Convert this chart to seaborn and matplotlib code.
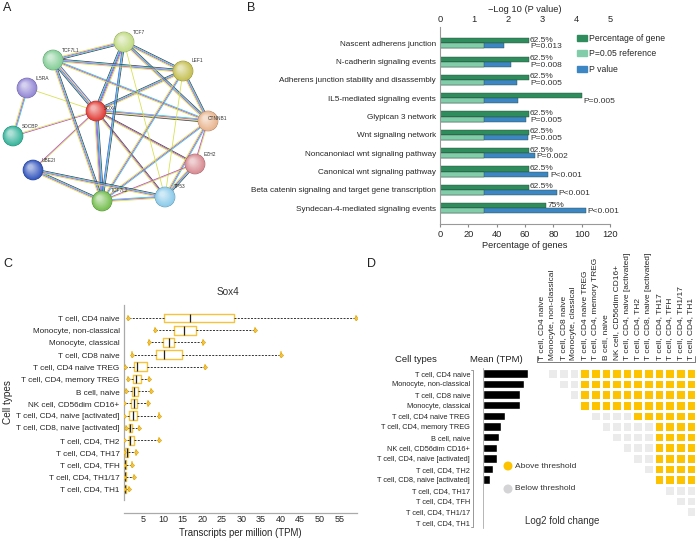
import numpy as np
import pandas as pd
import matplotlib
matplotlib.use('Agg')
import matplotlib.pyplot as plt
import seaborn as sns
from matplotlib.colors import ListedColormap, to_rgb
from matplotlib.patches import Circle, Patch

sns.set_style('white')
plt.rcParams['font.family'] = ['Liberation Sans', 'DejaVu Sans']

W, H = 698, 544

# --- A: STRING network (node positions in panel pixels) ---
nodes = ['TCF7', 'TCF7L1', 'LEF1', 'IL5RA', 'SOX4', 'CTNNB1', 'SDCBP', 'EZH2', 'UBE2I', 'TP53', 'TCF7L2']
node_x = [124, 53, 183, 27, 96, 208, 13, 195, 33, 165, 102]
node_y = [42, 60, 71, 88, 111, 121, 136, 164, 170, 197, 201]
node_colors = ['#c3dc86', '#86cf98', '#c6c155', '#9489d6', '#e2403a', '#e9b690',
               '#38b59c', '#d98d93', '#3659bf', '#8ccbea', '#77c052']
edge_a = ['SOX4', 'SOX4', 'SOX4', 'SOX4', 'SOX4', 'SOX4', 'SOX4', 'SOX4', 'SOX4', 'SOX4',
          'TCF7', 'TCF7', 'TCF7', 'TCF7', 'TCF7L1', 'TCF7L1', 'TCF7L1', 'LEF1', 'LEF1', 'LEF1',
          'CTNNB1', 'CTNNB1', 'CTNNB1', 'EZH2', 'EZH2', 'UBE2I', 'UBE2I', 'TCF7L2', 'IL5RA', 'TCF7']
edge_b = ['TCF7L1', 'TCF7', 'LEF1', 'TCF7L2', 'CTNNB1', 'TP53', 'EZH2', 'IL5RA', 'SDCBP', 'UBE2I',
          'TCF7L1', 'LEF1', 'CTNNB1', 'TCF7L2', 'LEF1', 'CTNNB1', 'TCF7L2', 'CTNNB1', 'TCF7L2', 'TP53',
          'TCF7L2', 'TP53', 'EZH2', 'TP53', 'TCF7L2', 'TCF7L2', 'TP53', 'TP53', 'SDCBP', 'TP53']
edge_kind = ['kcpyb', 'kcbpy', 'kcpy', 'kcbpy', 'cpyk', 'kpy', 'kpy', 'y', 'py', 'yp',
             'kcpy', 'kcpy', 'kcpy', 'kcb', 'kcpy', 'cpy', 'kcpy', 'kcpy', 'cpy', 'y',
             'cpy', 'cpy', 'yp', 'kcpy', 'yp', 'kcpy', 'kcpy', 'cpy', 'cpy', 'y']
edge_colors = {'k': '#3f3f3f', 'c': '#27c3e3', 'p': '#b54ac4', 'y': '#d6df47', 'b': '#3b5ad6'}

# --- B: pathway enrichment ---
pathways = ['Nascent adherens junction', 'N-cadherin signaling events',
            'Adherens junction stability and disassembly', 'IL5-mediated signaling events',
            'Glypican 3 network', 'Wnt signaling network', 'Noncanoniacl wnt signaling pathway',
            'Canonical wnt signaling pathway', 'Beta catenin signaling and target gene transcription',
            'Syndecan-4-mediated signaling events']
pct_genes = [62.5, 62.5, 62.5, 100, 62.5, 62.5, 62.5, 62.5, 62.5, 75]
neg_log_p = [1.89, 2.10, 2.27, 2.30, 2.53, 2.60, 2.80, 3.19, 3.45, 4.28]
ref_neg_log_p = 1.30
pct_labels = ['62.5%', '62.5%', '62.5%', '', '62.5%', '62.5%', '62.5%', '62.5%', '62.5%', '75%']
p_labels = ['P=0.013', 'P=0.008', 'P=0.005', 'P=0.005', 'P=0.005', 'P=0.005', 'P=0.002',
            'P<0.001', 'P<0.001', 'P<0.001']
P_SCALE = 120 / 5

# --- C: Sox4 expression per cell type (min, q1, median, q3, max) ---
cell_types = ['T cell, CD4 naive', 'Monocyte, non-classical', 'Monocyte, classical', 'T cell, CD8 naive',
              'T cell, CD4 naive TREG', 'T cell, CD4, memory TREG', 'B cell, naive', 'NK cell, CD56dim CD16+',
              'T cell, CD4, naive [activated]', 'T cell, CD8, naive [activated]', 'T cell, CD4, TH2',
              'T cell, CD4, TH17', 'T cell, CD4, TFH', 'T cell, CD4, TH1/17', 'T cell, CD4, TH1']
tpm_min = [1.2, 8.0, 6.4, 2.0, 0.3, 1.2, 0.6, 0.2, 0.2, 0.5, 0.2, 0.1, 0.0, 0.0, 0.0]
tpm_q1 = [10.3, 12.8, 9.9, 8.2, 2.5, 2.4, 2.0, 1.9, 1.4, 1.3, 1.3, 0.3, 0.2, 0.2, 0.2]
tpm_med = [16.8, 15.3, 11.6, 10.2, 3.3, 3.1, 2.6, 2.5, 2.3, 1.6, 1.6, 0.85, 0.4, 0.3, 0.3]
tpm_q3 = [28.2, 18.5, 12.8, 14.8, 5.9, 4.3, 3.6, 3.5, 3.4, 2.2, 2.5, 1.1, 0.6, 0.6, 0.6]
tpm_max = [59.3, 33.5, 20.2, 40.1, 20.7, 6.5, 7.0, 6.1, 9.1, 3.9, 8.9, 3.1, 2.0, 2.7, 1.4]

# --- D: mean TPM and pairwise log2 fold change threshold ---
d_cell_types = ['T cell, CD4 naive', 'Monocyte, non-classical', 'T cell, CD8 naive', 'Monocyte, classical',
                'T cell, CD4 naive TREG', 'T cell, CD4, memory TREG', 'B cell, naive', 'NK cell, CD56dim CD16+',
                'T cell, CD4, naive [activated]', 'T cell, CD4, TH2', 'T cell, CD8, naive [activated]',
                'T cell, CD4, TH17', 'T cell, CD4, TFH', 'T cell, CD4, TH1/17', 'T cell, CD4, TH1']
mean_tpm = [19.5, 18.0, 16.2, 16.0, 9.5, 7.8, 6.9, 6.3, 6.3, 4.3, 3.3, 0.05, 0.05, 0.05, 0.05]
# row i: comparisons against columns i+1..14, 1 = above threshold
above_rows = ['00011111111111', '0011111111111', '011111111111', '11111111111', '0000111111',
              '000001111', '00001111', '0001111', '001111', '01111', '1111', '000', '00', '0', '']

GOLD = '#fdc300'
GREY = '#ebebeb'

fig = plt.figure(figsize=(6.98, 5.44), dpi=100)


def rect(x0, y0, x1, y1):
    return [x0 / W, 1 - y1 / H, (x1 - x0) / W, (y1 - y0) / H]


# ---------------- Panel A ----------------
ax_a = fig.add_axes(rect(0, 0, 230, 250))
ax_a.set_xlim(0, 230)
ax_a.set_ylim(250, 0)
ax_a.axis('off')
pos = {n: (x, y) for n, x, y in zip(nodes, node_x, node_y)}
for a, b, kind in zip(edge_a, edge_b, edge_kind):
    (x0, y0), (x1, y1) = pos[a], pos[b]
    d = np.hypot(x1 - x0, y1 - y0)
    nx, ny = -(y1 - y0) / d, (x1 - x0) / d
    n = len(kind)
    for k, ch in enumerate(kind):
        off = (k - (n - 1) / 2) * 0.9
        ax_a.plot([x0 + nx * off, x1 + nx * off], [y0 + ny * off, y1 + ny * off],
                  color=edge_colors[ch], lw=0.55, solid_capstyle='butt', zorder=1)
R = 9.2
for n, x, y, c in zip(nodes, node_x, node_y, node_colors):
    base = np.array(to_rgb(c))
    ax_a.add_patch(Circle((x, y), R + 0.4, color=base * 0.7, zorder=2))
    for t in np.linspace(0, 1, 12):
        col = base * (1 - 0.6 * t) + 0.6 * t
        ax_a.add_patch(Circle((x - 2.6 * t, y - 3.0 * t), R * (1 - 0.82 * t), color=col, zorder=3))
    dx, dy = (8, -2) if n == 'SOX4' else ((0, -3) if n == 'CTNNB1' else (8.5, -10))
    ax_a.text(x + dx, y + dy, n, fontsize=3.5, color='#333333', ha='left', va='center', zorder=4)

# ---------------- Panel B ----------------
ax_b = fig.add_axes(rect(440, 27, 610, 224))
df_b = pd.DataFrame({
    'pathway': pathways * 2,
    'measure': ['Percentage of gene'] * len(pathways) + ['P value'] * len(pathways),
    'value': pct_genes + [v * P_SCALE for v in neg_log_p],
})
pal_b = {'Percentage of gene': '#2f8c5c', 'P value': '#3c87c3', 'P=0.05 reference': '#82cda9'}
sns.barplot(data=df_b, y='pathway', x='value', hue='measure', orient='h', dodge=True,
            hue_order=['Percentage of gene', 'P value'], palette=pal_b, saturation=1,
            width=0.56, edgecolor='#2b4a3c', linewidth=0.3, legend=False, ax=ax_b)
df_ref = pd.DataFrame({'pathway': pathways, 'measure': 'P=0.05 reference',
                       'value': ref_neg_log_p * P_SCALE})
sns.barplot(data=df_ref, y='pathway', x='value', hue='measure', orient='h', dodge=True,
            hue_order=['Percentage of gene', 'P=0.05 reference'], palette=pal_b, saturation=1,
            width=0.56, edgecolor='#2b4a3c', linewidth=0.3, legend=False, ax=ax_b)
for i, (pc, lp, lab1, lab2) in enumerate(zip(pct_genes, neg_log_p, pct_labels, p_labels)):
    ax_b.text(pc + 1, i - 0.17, lab1, fontsize=6.0, color='#333333', va='center')
    ax_b.text(max(pc, lp * P_SCALE) + 1, i + 0.2, lab2, fontsize=6.0, color='#333333', va='center')
ax_b.set_xlim(0, 120)
ax_b.set_ylim(9.86, -0.89)
ax_b.set_xticks(range(0, 121, 20))
ax_b.set_ylabel('')
ax_b.set_xlabel('Percentage of genes', fontsize=6.7, labelpad=2)
ax_b.tick_params(axis='x', labelsize=6.7, length=2, color='#888888', pad=2)
ax_b.tick_params(axis='y', labelsize=5.9, length=2, color='#888888', pad=1)
sns.despine(ax=ax_b)
for s in ['left', 'bottom']:
    ax_b.spines[s].set_color('#999999')
    ax_b.spines[s].set_linewidth(0.8)
ax_b2 = ax_b.twiny()
ax_b2.set_xlim(0, 5)
ax_b2.set_xticks(range(0, 6))
ax_b2.tick_params(axis='x', labelsize=6.7, length=0, pad=2)
ax_b2.set_xlabel('\u2212Log 10 (P value)', fontsize=6.7, labelpad=2)
for s in ax_b2.spines.values():
    s.set_visible(False)
ax_b.legend(handles=[Patch(color=pal_b[k]) for k in ['Percentage of gene', 'P=0.05 reference', 'P value']],
            labels=['Percentage of gene', 'P=0.05 reference', 'P value'],
            loc='upper left', bbox_to_anchor=(577 / W, 1 - 34 / H), bbox_transform=fig.transFigure,
            frameon=False, fontsize=6.2, handlelength=1.2, handleheight=0.7, handletextpad=0.2,
            labelspacing=0.75, borderpad=0, borderaxespad=0)

# ---------------- Panel C ----------------
ax_c = fig.add_axes(rect(123.7, 305, 357, 500))
df_c = pd.DataFrame({
    'cell': np.repeat(cell_types, 5),
    'tpm': np.column_stack([tpm_min, tpm_q1, tpm_med, tpm_q3, tpm_max]).ravel(),
})
BOXGOLD = '#f6c43a'
sns.boxplot(data=df_c, x='tpm', y='cell', orient='h', whis=(0, 100), fill=False, color=BOXGOLD,
            width=0.72, linewidth=1.0, showfliers=False,
            medianprops={'color': '#222222', 'linewidth': 0.9},
            whiskerprops={'color': '#333333', 'linestyle': (0, (2, 1.4)), 'linewidth': 0.7},
            capprops={'color': BOXGOLD, 'linewidth': 1.4},
            ax=ax_c)
rows_c = np.arange(len(cell_types))
ax_c.scatter(tpm_min, rows_c, marker='D', s=5, color=BOXGOLD, edgecolor='#c79a10', linewidth=0.3, zorder=5)
ax_c.scatter(tpm_max, rows_c, marker='D', s=5, color=BOXGOLD, edgecolor='#c79a10', linewidth=0.3, zorder=5)
ax_c.set_xlim(0, 59.5)
ax_c.set_ylim(14.9, -1.06)
ax_c.set_xticks(range(5, 60, 5))
ax_c.tick_params(axis='x', labelsize=6.5, length=0, pad=2)
ax_c.tick_params(axis='y', labelsize=5.9, length=0, pad=3)
ax_c.set_xlabel('Transcripts per million (TPM)', fontsize=6.9, labelpad=3)
ax_c.set_ylabel('Cell types', fontsize=7.2, labelpad=2)
ax_c.text(0.445, 1.065, 'Sox4', transform=ax_c.transAxes, fontsize=7.2, ha='center', va='center',
          color='#333333')
sns.despine(ax=ax_c)
ax_c.spines['bottom'].set_position(('outward', 9))
for s in ['left', 'bottom']:
    ax_c.spines[s].set_color('#aaaaaa')
    ax_c.spines[s].set_linewidth(0.9)

# ---------------- Panel D ----------------
ax_db = fig.add_axes(rect(482.7, 368, 535, 527.6))
sns.barplot(x=mean_tpm, y=d_cell_types, color='black', saturation=1, width=0.8, orient='h', ax=ax_db)
ax_db.set_xlim(0, 19.5 * (535 - 482.7) / 45)
ax_db.set_ylim(14.5, -0.5)
ax_db.set_xticks([])
ax_db.tick_params(axis='y', labelsize=5.3, length=0, pad=9)
sns.despine(ax=ax_db, bottom=True)
ax_db.spines['left'].set_color('#999999')
ax_db.spines['left'].set_linewidth(0.5)

n = len(d_cell_types)
mat = np.full((n, n), np.nan)
for i, row in enumerate(above_rows):
    for k, ch in enumerate(row):
        mat[i, i + 1 + k] = int(ch)
ax_dh = fig.add_axes(rect(536.7, 368, 696.3, 527.6))
sns.heatmap(mat, mask=np.isnan(mat), cmap=ListedColormap([GREY, GOLD]), vmin=0, vmax=1,
            linewidths=0.9, linecolor='white', cbar=False, xticklabels=d_cell_types,
            yticklabels=False, ax=ax_dh)
ax_dh.xaxis.tick_top()
ax_dh.tick_params(axis='x', rotation=90, labelsize=6.0, length=0, pad=6)

# ---------------- Overlay: letters, brackets, legend ----------------
ov = fig.add_axes([0, 0, 1, 1])
ov.set_xlim(0, W)
ov.set_ylim(H, 0)
ov.axis('off')
for letter, x, y in [('A', 3, 8), ('B', 247, 8), ('C', 3, 264), ('D', 367, 264)]:
    ov.text(x, y, letter, fontsize=9, ha='left', va='center', color='#222222')
ov.plot([471, 473, 473, 471], [370, 370, 527, 527], color='#888888', lw=0.6)
ov.plot([537, 537, 695, 695], [356, 362, 362, 356], color='#666666', lw=0.6)
ov.text(416, 359, 'Cell types', fontsize=6.8, ha='center', va='center', color='#222222')
ov.text(496, 359, 'Mean (TPM)', fontsize=6.8, ha='center', va='center', color='#222222')
ov.scatter([508, 508], [466, 489], s=30, color=[GOLD, '#d4d4d6'])
ov.text(515, 466, 'Above threshold', fontsize=6.0, va='center', color='#333333')
ov.text(515, 489, 'Below threshold', fontsize=6.0, va='center', color='#333333')
ov.text(562, 521, 'Log2 fold change', fontsize=7.0, ha='center', va='center', color='#333333')

fig.savefig('out.png', dpi=100)
